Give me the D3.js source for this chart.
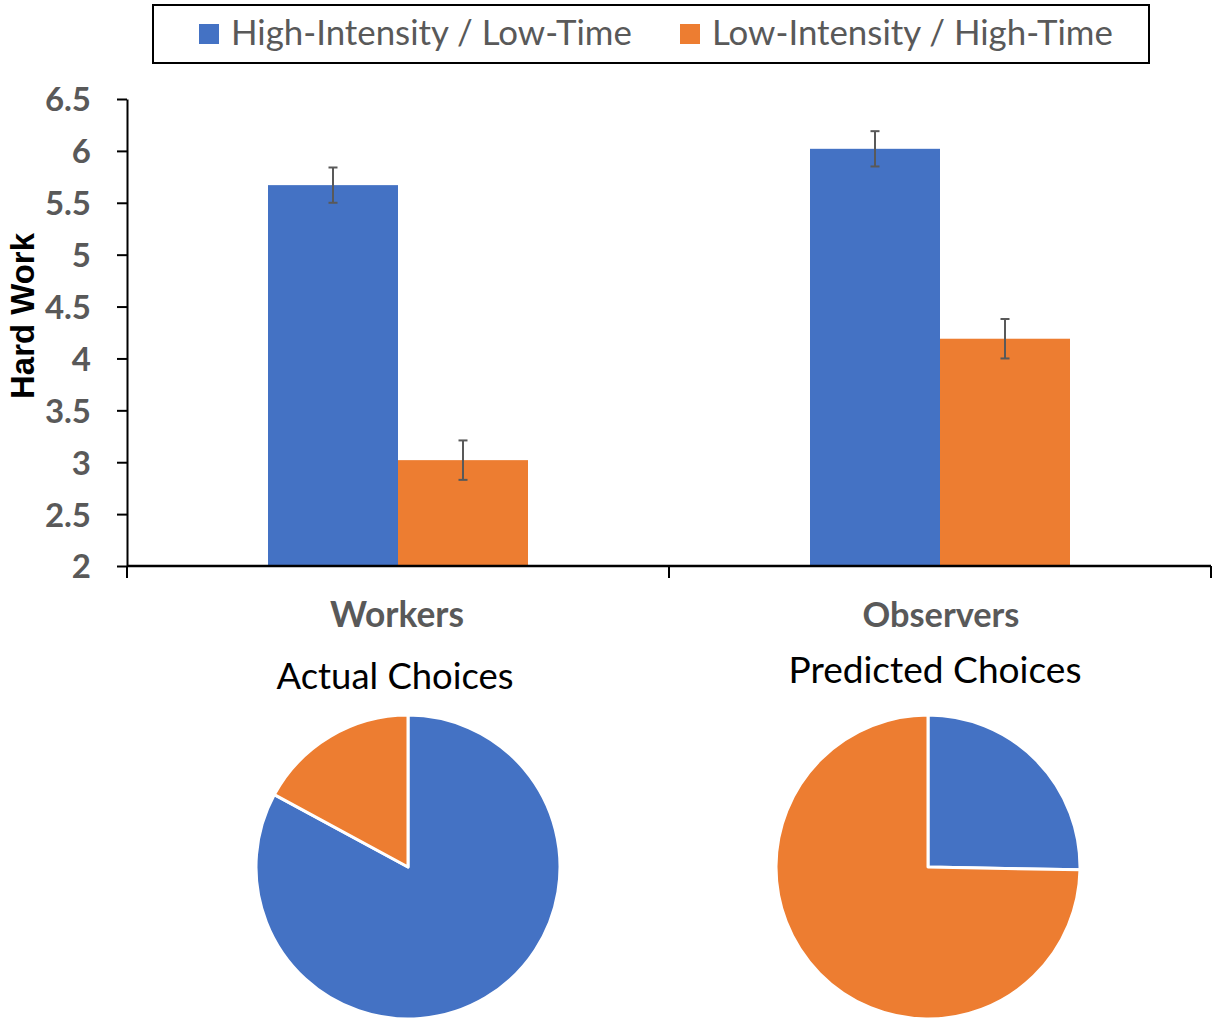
<!DOCTYPE html>
<html>
<head>
<meta charset="utf-8">
<script src="https://cdn.jsdelivr.net/npm/d3@7"></script>
<style>
html,body{margin:0;padding:0;background:#fff;}
svg{display:block;}
</style>
</head>
<body>
<script>
// ---------- data ----------
const categories = ["Workers", "Observers"];
const series = ["High-Intensity / Low-Time", "Low-Intensity / High-Time"];
const highIntensityValues = [5.67, 6.02];
const lowIntensityValues = [3.02, 4.19];
const highIntensityErrors = [0.17, 0.17];
const lowIntensityErrors = [0.19, 0.19];
const yTickValues = [2, 2.5, 3, 3.5, 4, 4.5, 5, 5.5, 6, 6.5];
const yTickLabels = ["2", "2.5", "3", "3.5", "4", "4.5", "5", "5.5", "6", "6.5"];
const yAxisTitle = "Hard Work";
const pieTitles = ["Actual Choices", "Predicted Choices"];
const actualChoices = [82.9, 17.1];     // [High-Intensity, Low-Intensity] %
const predictedChoices = [25.3, 74.7];  // [High-Intensity, Low-Intensity] %

// ---------- setup ----------
const W = 1213, H = 1019;
const colors = ["#4472C4", "#ED7D31"];
const gray = "#595959";
const calibriLike = "Lato, 'Open Sans', sans-serif";

const svg = d3.select("body").append("svg").attr("width", W).attr("height", H);

function fitText(sel, target) {
  const node = sel.node();
  const fs = parseFloat(sel.attr("font-size"));
  const len = node.getComputedTextLength();
  if (len > 0) sel.attr("font-size", (fs * target / len).toFixed(2));
  return sel;
}

// ---------- scales ----------
const y = d3.scaleLinear().domain([2, 6.5]).range([566, 99]);
const x0 = d3.scaleBand().domain(categories).range([127, 1211]).paddingInner(0).paddingOuter(0);
const x1 = d3.scaleBand().domain(series).range([141, 401]).padding(0);
const color = d3.scaleOrdinal().domain(series).range(colors);

const barData = categories.map((c, i) => ({
  cat: c,
  vals: [
    {s: series[0], v: highIntensityValues[i], e: highIntensityErrors[i]},
    {s: series[1], v: lowIntensityValues[i], e: lowIntensityErrors[i]}
  ]
}));

// ---------- bars ----------
const groups = svg.append("g").selectAll("g").data(barData).join("g")
  .attr("transform", d => `translate(${x0(d.cat)},0)`);

groups.selectAll("rect").data(d => d.vals).join("rect")
  .attr("x", d => x1(d.s))
  .attr("width", x1.bandwidth())
  .attr("y", d => y(d.v))
  .attr("height", d => y(2) - y(d.v))
  .attr("fill", d => color(d.s));

// error bars
const eb = groups.selectAll("g.err").data(d => d.vals).join("g").attr("class", "err")
  .attr("stroke", gray).attr("stroke-width", 2);
eb.append("line")
  .attr("x1", d => x1(d.s) + x1.bandwidth() / 2)
  .attr("x2", d => x1(d.s) + x1.bandwidth() / 2)
  .attr("y1", d => y(d.v + d.e)).attr("y2", d => y(d.v - d.e));
eb.append("line")
  .attr("x1", d => x1(d.s) + x1.bandwidth() / 2 - 4.5)
  .attr("x2", d => x1(d.s) + x1.bandwidth() / 2 + 4.5)
  .attr("y1", d => y(d.v + d.e)).attr("y2", d => y(d.v + d.e));
eb.append("line")
  .attr("x1", d => x1(d.s) + x1.bandwidth() / 2 - 4.5)
  .attr("x2", d => x1(d.s) + x1.bandwidth() / 2 + 4.5)
  .attr("y1", d => y(d.v - d.e)).attr("y2", d => y(d.v - d.e));

// ---------- y axis ----------
const yAxis = d3.axisLeft(y).tickValues(yTickValues)
  .tickFormat((d, i) => yTickLabels[i]).tickSize(10).tickPadding(26).tickSizeOuter(0);
const yg = svg.append("g").attr("transform", "translate(127,0)").call(yAxis);
yg.select(".domain").attr("stroke", "#000").attr("stroke-width", 2);
yg.selectAll(".tick line").attr("stroke", "#000").attr("stroke-width", 2);
yg.selectAll(".tick text")
  .attr("font-family", calibriLike).attr("font-weight", "bold")
  .attr("font-size", 33).attr("fill", gray).attr("dy", "0.36em");

// ---------- x axis ----------
const xg = svg.append("g");
xg.append("line").attr("x1", 127).attr("x2", 1211).attr("y1", y(2)).attr("y2", y(2))
  .attr("stroke", "#000").attr("stroke-width", 2.5);
const boundaries = categories.map(c => x0(c)).concat([x0(categories[categories.length - 1]) + x0.bandwidth()]);
xg.selectAll("line.b").data(boundaries).join("line").attr("class", "b")
  .attr("x1", d => d).attr("x2", d => d)
  .attr("y1", y(2)).attr("y2", y(2) + 12)
  .attr("stroke", "#000").attr("stroke-width", 2);
xg.selectAll("text.cat").data(categories).join("text").attr("class", "cat")
  .attr("x", d => x0(d) + x0.bandwidth() / 2 + (d === categories[0] ? -1 : 1))
  .attr("y", 627)
  .attr("text-anchor", "middle")
  .attr("font-family", calibriLike).attr("font-weight", "bold")
  .attr("font-size", 30).attr("fill", gray)
  .text(d => d)
  .each(function(d, i) { fitText(d3.select(this), [134, 157][i]); });

// y axis title
const yt = svg.append("text")
  .attr("transform", "translate(34,316) rotate(-90)")
  .attr("text-anchor", "middle")
  .attr("font-family", "'Liberation Sans', Arial, sans-serif")
  .attr("font-weight", "bold").attr("font-size", 30).attr("fill", "#000")
  .text(yAxisTitle);
fitText(yt, 166);

// ---------- legend ----------
const lg = svg.append("g");
lg.append("rect").attr("x", 153).attr("y", 5).attr("width", 996).attr("height", 58)
  .attr("fill", "#fff").attr("stroke", "#000").attr("stroke-width", 2);
const legendX = [199, 680];
const li = lg.selectAll("g.li").data(series).join("g").attr("class", "li")
  .attr("transform", (d, i) => `translate(${legendX[i]},0)`);
li.append("rect").attr("x", 0).attr("y", 24).attr("width", 20).attr("height", 20)
  .attr("fill", d => color(d));
li.append("text").attr("x", 32).attr("y", 45)
  .attr("font-family", calibriLike).attr("font-size", 30).attr("fill", gray)
  .text(d => d)
  .each(function() { fitText(d3.select(this), 401); });

// ---------- pies ----------
const pieData = [actualChoices, predictedChoices];
const pieCenters = [[408, 867], [928, 867]];
const pieTitleX = [395, 935];
const pieTitleY = [689, 683];
const pieTitleW = [237, 293];
const pie = d3.pie().sort(null);
const arc = d3.arc().innerRadius(0).outerRadius(152);

pieData.forEach((vals, k) => {
  const g = svg.append("g").attr("transform", `translate(${pieCenters[k][0]},${pieCenters[k][1]})`);
  g.selectAll("path").data(pie(vals)).join("path")
    .attr("d", arc)
    .attr("fill", (d, i) => colors[i])
    .attr("stroke", "#fff").attr("stroke-width", 3).attr("stroke-linejoin", "round");
  const t = svg.append("text")
    .attr("x", pieTitleX[k]).attr("y", pieTitleY[k])
    .attr("text-anchor", "middle")
    .attr("font-family", calibriLike).attr("font-size", 32).attr("fill", "#000")
    .text(pieTitles[k]);
  fitText(t, pieTitleW[k]);
});
</script>
</body>
</html>
